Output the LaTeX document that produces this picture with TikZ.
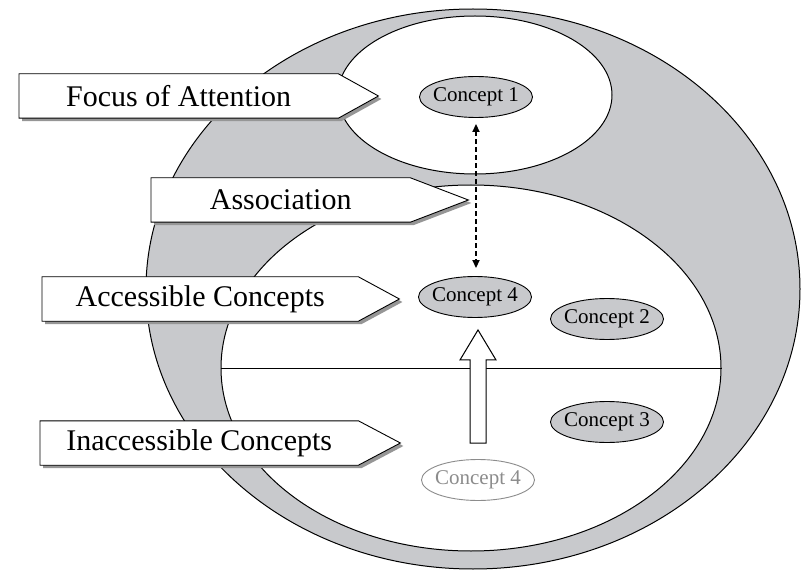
\documentclass[tikz,border=0pt]{standalone}
\usepackage{fontspec}
\setmainfont{Liberation Serif}
\usepackage{xcolor}
\usepackage{tikz}
\usetikzlibrary{arrows.meta, shapes.geometric, positioning, calc}
\definecolor{mindgray}{RGB}{200, 201, 204}
\definecolor{shadowgray}{RGB}{150, 150, 150}
\definecolor{ghostgray}{RGB}{140, 140, 140}
\pgfdeclarelayer{tagshape}
\pgfdeclarelayer{tagtext}
\pgfsetlayers{main,tagshape,tagtext}

\begin{document}
\begin{tikzpicture}[
      x=1pt, y=-1pt,
      region/.style={draw, ellipse, line width=1pt, inner sep=0pt},
      concept/.style={draw, ellipse, line width=0.9pt, fill=mindgray, minimum width=113pt,
                      minimum height=41pt, inner xsep=-14pt, inner ysep=0pt,
                      font=\fontsize{21}{24}\selectfont},
      ghost/.style={concept, draw=ghostgray, fill=white, text=ghostgray},
      lbl/.style={minimum height=44pt, inner sep=0pt, anchor=west,
                  font=\fontsize{30}{34}\selectfont},
      tag/.style={draw, line width=0.9pt, fill=white},
      tagshadow/.style={fill=shadowgray, transform canvas={xshift=3pt, yshift=-3pt}},
      assoc/.style={{Triangle[length=8pt, width=7pt]}-{Triangle[length=8pt, width=7pt]},
                    dash pattern=on 5pt off 3pt, line width=1.8pt},
      lift/.style={draw, line width=1pt, fill=white},
    ]
    \useasboundingbox (0,0) rectangle (807,575);

    % regions of memory
    \node[region, fill=mindgray, minimum width=654pt, minimum height=560pt] (mind) at (473,289) {};
    \node[region, fill=white, minimum width=274pt, minimum height=158pt] (focusarea) at (475,95) {};
    \node[region, fill=white, minimum width=500pt, minimum height=366pt] (workarea) at (471,368) {};
    \draw[line width=1pt] (workarea.west) -- (workarea.east);

    % concepts
    \node[concept] (c1) at (476,97)  {Concept 1};
    \node[concept] (c4) at (475,297) {Concept 4};
    \node[concept] (c2) at (607,319) {Concept 2};
    \node[concept] (c3) at (607,422) {Concept 3};
    \node[ghost]   (c4old) at (478,480) {Concept 4};

    \draw[assoc, shorten <=6pt, shorten >=8pt] (c1.south) -- (c1.south |- c4.north);

    \coordinate (liftbase) at ($(c4old.north)+(0,-16)$);
    \path (c4.south) ++(0,12) coordinate (tiplevel);
    \coordinate (lifttip) at (liftbase |- tiplevel);
    \draw[lift] ([xshift=-8pt]liftbase) -- ($(lifttip)+(-8,30)$) -- ($(lifttip)+(-18,30)$)
      -- (lifttip) -- ($(lifttip)+(18,30)$) -- ($(lifttip)+(8,30)$) -- ([xshift=8pt]liftbase) -- cycle;

    % labels
    \begin{pgfonlayer}{tagtext}
      \node[lbl, minimum width=319pt] (focuslbl)    at (19,96)   {Focus of Attention};
      \node[lbl, minimum width=259pt] (assoclbl)    at (151,200) {Association};
      \node[lbl, minimum width=316pt] (accesslbl)   at (42,299)  {Accessible Concepts};
      \node[lbl, minimum width=318pt] (inaccesslbl) at (40,443)  {Inaccessible Concepts};
    \end{pgfonlayer}
    \begin{pgfonlayer}{tagshape}
      \foreach \n/\p in {focuslbl/40, assoclbl/58, accesslbl/41, inaccesslbl/42} {
        \fill[tagshadow] (\n.north west) -- (\n.north east) -- ([xshift=\p pt]\n.east)
          -- (\n.south east) -- (\n.south west) -- cycle;
        \draw[tag] (\n.north west) -- (\n.north east) -- ([xshift=\p pt]\n.east)
          -- (\n.south east) -- (\n.south west) -- cycle;
      }
    \end{pgfonlayer}
  \end{tikzpicture}
\end{document}
